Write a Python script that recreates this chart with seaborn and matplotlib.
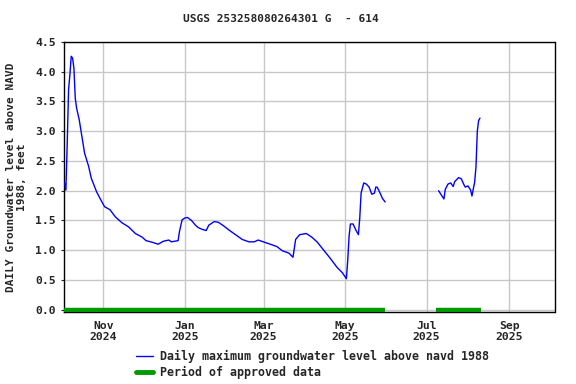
import numpy as np
import pandas as pd
import matplotlib
matplotlib.use("Agg")
import matplotlib.pyplot as plt
import matplotlib.dates as mdates
from matplotlib.lines import Line2D
import seaborn as sns

# ---- data (days since 2024-11-01, daily max level in feet) ----
seg1_days = [-29, -28, -27, -26, -25, -24, -23, -22, -21, -20, -18, -16, -14, -11, -9, -5, -2,
             1, 5, 9, 14, 19, 24, 29, 32, 37, 41, 45, 49, 51, 56, 57, 59, 61, 63, 66, 69, 71,
             74, 77, 79, 83, 86, 90, 94, 99, 104, 109, 113, 116, 121, 125, 130, 134, 139, 142,
             144, 147, 152, 156, 160, 165, 170, 175, 179, 182, 183, 184, 185, 187, 189, 191,
             192, 193, 195, 197, 199, 201, 203, 204, 205, 207, 209, 211]
seg1_vals = [2.13, 2.01, 2.80, 3.70, 3.95, 4.26, 4.23, 4.06, 3.56, 3.39, 3.19, 2.91, 2.63, 2.41, 2.21, 1.98, 1.85,
             1.73, 1.68, 1.56, 1.46, 1.39, 1.28, 1.22, 1.16, 1.13, 1.10, 1.15, 1.17, 1.14, 1.16, 1.31, 1.51, 1.54, 1.55, 1.50, 1.42, 1.38,
             1.35, 1.33, 1.42, 1.48, 1.47, 1.41, 1.34, 1.26, 1.18, 1.14, 1.14, 1.17, 1.13, 1.10, 1.06, 0.99, 0.95, 0.88,
             1.18, 1.26, 1.28, 1.22, 1.14, 1.00, 0.86, 0.71, 0.62, 0.52, 0.83, 1.23, 1.44, 1.44, 1.34, 1.26,
             1.54, 1.96, 2.13, 2.11, 2.06, 1.94, 1.96, 2.06, 2.06, 1.97, 1.87, 1.81]
seg2_days = [251, 253, 255, 256, 258, 260, 262, 263, 266, 268, 270, 271, 273, 275, 276, 277, 278,
             279, 280, 281, 282]
seg2_vals = [2.00, 1.93, 1.86, 2.02, 2.11, 2.13, 2.07, 2.15, 2.22, 2.20, 2.10, 2.06, 2.08, 2.01, 1.91, 2.03, 2.14,
             2.40, 3.00, 3.18, 3.22]

approved_start = ["2024-10-02", "2025-07-08"]
approved_end = ["2025-05-31", "2025-08-11"]

month_ticks = ["2024-11-01", "2025-01-01", "2025-03-01", "2025-05-01", "2025-07-01", "2025-09-01"]
month_labels = ["Nov\n2024", "Jan\n2025", "Mar\n2025", "May\n2025", "Jul\n2025", "Sep\n2025"]
y_ticks = [0.0, 0.5, 1.0, 1.5, 2.0, 2.5, 3.0, 3.5, 4.0, 4.5]

title = "USGS 253258080264301 G  - 614"
ylabel = "DAILY Groundwater level above NAVD\n1988, feet"
legend_labels = ["Daily maximum groundwater level above navd 1988", "Period of approved data"]

origin = pd.Timestamp("2024-11-01")
df1 = pd.DataFrame({"date": origin + pd.to_timedelta(seg1_days, unit="D"), "level": seg1_vals})
df2 = pd.DataFrame({"date": origin + pd.to_timedelta(seg2_days, unit="D"), "level": seg2_vals})

sns.set_style("white")
plt.rcParams["font.family"] = ["DejaVu Sans Mono"]
plt.rcParams["font.weight"] = "bold"

fig = plt.figure(figsize=(5.76, 3.84), dpi=100)
ax = fig.add_axes([64 / 576, 1 - 312.3 / 384, (554.5 - 64) / 576, (312.3 - 42) / 384])

blue = "#0000ff"
green = "#009900"

# approved periods
for s, e in zip(approved_start, approved_end):
    pdf = pd.DataFrame({"date": pd.to_datetime([s, e]), "level": [0.0, 0.0]})
    sns.lineplot(data=pdf, x="date", y="level", ax=ax, color=green, linewidth=3.2,
                 solid_capstyle="butt", zorder=3)

sns.lineplot(data=df1, x="date", y="level", ax=ax, color=blue, linewidth=1.0, zorder=4)
sns.lineplot(data=df2, x="date", y="level", ax=ax, color=blue, linewidth=1.0, zorder=4)

ax.set_xlim(pd.Timestamp("2024-10-02 14:00"), pd.Timestamp("2025-10-04 19:00"))
ax.set_ylim(-0.045, 4.5)
ax.set_xticks(pd.to_datetime(month_ticks))
ax.set_xticklabels(month_labels)
ax.set_yticks(y_ticks)
ax.set_yticklabels([f"{v:.1f}" for v in y_ticks])

ax.grid(True, color="#c8c8c8", linewidth=1.0)
ax.set_axisbelow(True)
for sp in ax.spines.values():
    sp.set_color("black")
    sp.set_linewidth(1.0)

ax.tick_params(axis="x", length=0, pad=6, labelsize=8.2)
ax.tick_params(axis="y", length=2, pad=4, labelsize=8.2, left=True)
for lab in ax.get_xticklabels() + ax.get_yticklabels():
    lab.set_fontweight("bold")

ax.set_xlabel("")
ax.set_ylabel(ylabel, fontsize=8, fontweight="bold", labelpad=6, linespacing=1.1)
fig.suptitle(title, x=0.487, y=0.963, fontsize=8, fontweight="bold")

handles = [Line2D([], [], color=blue, linewidth=1.0),
           Line2D([], [], color=green, linewidth=3.5)]
fig.legend(handles, legend_labels, loc="upper left", bbox_to_anchor=(130 / 576, 1 - 344 / 384),
           frameon=False, prop={"family": "DejaVu Sans Mono", "weight": "bold", "size": 8.4},
           handlelength=1.5, handletextpad=0.6, labelspacing=0.25, borderpad=0)

fig.savefig("out.png", dpi=100)
